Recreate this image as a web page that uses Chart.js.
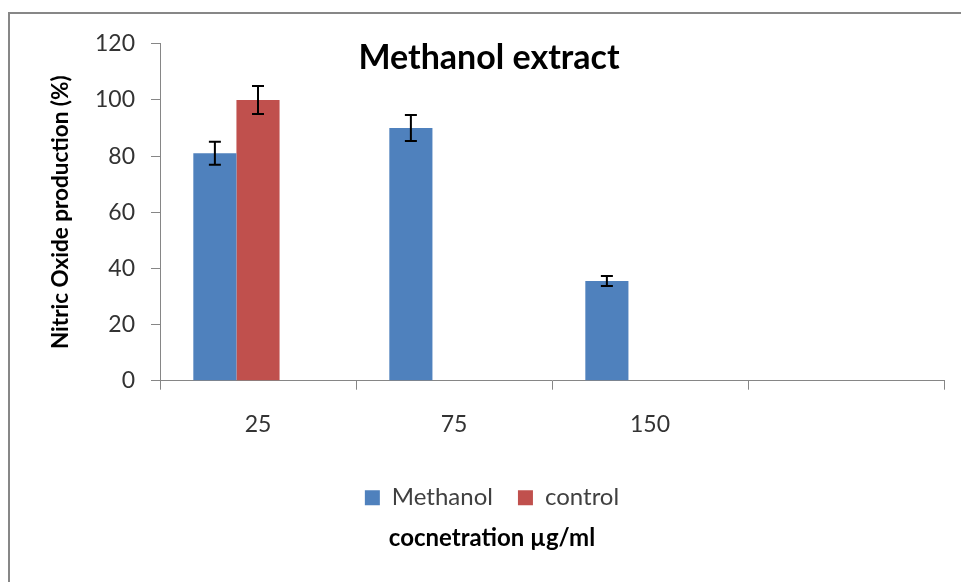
<!DOCTYPE html>
<html>
<head>
<meta charset="utf-8">
<script src="https://cdn.jsdelivr.net/npm/chart.js@4.4.0/dist/chart.umd.min.js"></script>
<style>
  html, body { margin: 0; padding: 0; background: #fff; overflow: hidden; }
  #wrap {
    position: absolute; left: 8px; top: 12px;
    width: 961px; height: 590px;
    border: 2px solid #878787; box-sizing: border-box;
  }
</style>
</head>
<body>
<div id="wrap"><canvas id="chart"></canvas></div>
<script>
// DATA
const categories = ["25", "75", "150", ""];
const methanolValues = [81, 90, 35.5, null];
const controlValues = [100, null, null, null];
const emptyValues = [null, null, null, null];
const methanolErrors = [4.1, 4.6, 1.8, null];
const controlErrors = [5, null, null, null];
const yTicks = [0, 20, 40, 60, 80, 100, 120];

const FONT = "Lato, 'Open Sans', 'DejaVu Sans', sans-serif";
const AXIS = "#868686";

// error bars drawn from the bar elements and the y scale
const errorBars = {
  id: "errorBars",
  afterDatasetsDraw(chart) {
    const { ctx } = chart;
    const yScale = chart.scales.y;
    chart.data.datasets.forEach((ds, i) => {
      if (!ds.errors) return;
      const meta = chart.getDatasetMeta(i);
      meta.data.forEach((bar, j) => {
        const v = ds.data[j], e = ds.errors[j];
        if (v == null || e == null) return;
        const top = yScale.getPixelForValue(v + e);
        const bottom = yScale.getPixelForValue(v - e);
        ctx.save();
        ctx.strokeStyle = "#000";
        ctx.lineWidth = 2;
        ctx.beginPath();
        ctx.moveTo(bar.x, top); ctx.lineTo(bar.x, bottom);
        ctx.moveTo(bar.x - 6, top); ctx.lineTo(bar.x + 6, top);
        ctx.moveTo(bar.x - 6, bottom); ctx.lineTo(bar.x + 6, bottom);
        ctx.stroke();
        ctx.restore();
      });
    });
  }
};

// chart heading sits inside the plot area, as in the original
const heading = {
  id: "heading",
  afterDraw(chart) {
    const { ctx } = chart;
    ctx.save();
    ctx.font = "bold 34px " + FONT;
    ctx.fillStyle = "#000";
    ctx.textAlign = "center";
    ctx.textBaseline = "middle";
    ctx.fillText("Methanol extract", 479, 44);
    ctx.restore();
  }
};

new Chart(document.getElementById("chart"), {
  type: "bar",
  data: {
    labels: categories,
    datasets: [
      { label: "Methanol", data: methanolValues, errors: methanolErrors, backgroundColor: "#4F81BD" },
      { label: "control", data: controlValues, errors: controlErrors, backgroundColor: "#C0504D" },
      { label: "", data: emptyValues, backgroundColor: "#9BBB59" }
    ]
  },
  options: {
    responsive: true,
    maintainAspectRatio: false,
    animation: false,
    layout: { padding: { left: 30, right: 23, top: 28, bottom: 43.5 } },
    datasets: { bar: { barPercentage: 1, categoryPercentage: 0.66 } },
    plugins: {
      tooltip: { enabled: false },
      legend: {
        position: "bottom",
        labels: {
          font: { family: FONT, size: 24 },
          color: "#404040",
          boxWidth: 15,
          boxHeight: 15,
          padding: 25,
          filter: item => item.text !== ""
        }
      },
      title: {
        display: true,
        position: "bottom",
        text: "cocnetration µg/ml",
        color: "#000",
        font: { family: FONT, size: 24, weight: "bold" },
        padding: { top: 4, bottom: 4 }
      }
    },
    scales: {
      x: {
        afterFit: scale => { scale.height = 80; },
        border: { color: AXIS, width: 1 },
        grid: { offset: true, drawOnChartArea: false, tickLength: 9, color: AXIS },
        ticks: { font: { family: FONT, size: 23 }, color: "#333", padding: 21 }
      },
      y: {
        min: 0,
        max: 120,
        afterFit: scale => { scale.width = 120; },
        afterBuildTicks: scale => { scale.ticks = yTicks.map(v => ({ value: v })); },
        border: { color: AXIS, width: 1 },
        grid: { drawOnChartArea: false, tickLength: 9, color: AXIS },
        ticks: { font: { family: FONT, size: 23 }, color: "#333", padding: 16 },
        title: {
          display: true,
          text: "Nitric Oxide production (%)",
          color: "#000",
          font: { family: FONT, size: 22.5, weight: "bold" },
          padding: { top: 7, bottom: 0 }
        }
      }
    }
  },
  plugins: [errorBars, heading]
});
</script>
</body>
</html>
